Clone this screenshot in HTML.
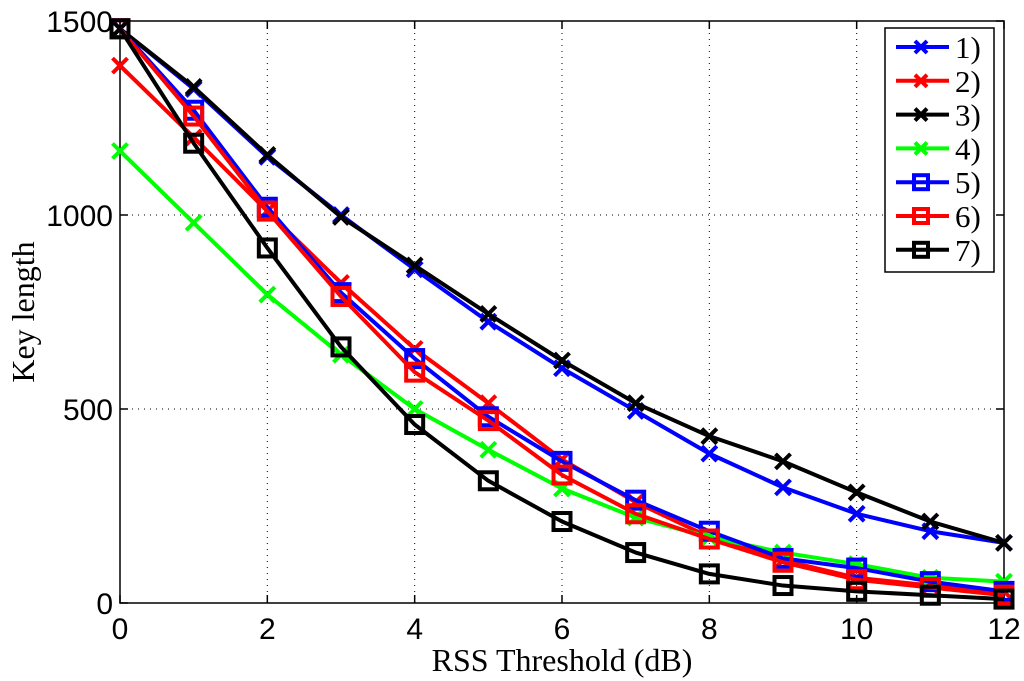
<!DOCTYPE html>
<html><head><meta charset="utf-8"><style>
body{margin:0;background:#fff}
svg{display:block}
.tk{font-family:"Liberation Sans",sans-serif;font-size:30px;fill:#000}
.tt{font-family:"Liberation Serif",serif;font-size:32px;fill:#000}
.lt{font-family:"Liberation Serif",serif;font-size:31px;fill:#000}
</style></head><body>
<svg id="chart" width="1024" height="681" viewBox="0 0 1024 681" xmlns="http://www.w3.org/2000/svg"></svg>
<script>
const xValues=[0,1,2,3,4,5,6,7,8,9,10,11,12];
const s1=[1480,1325,1150,1000,860,725,605,495,385,298,230,185,155];
const s2=[1385,1200,1010,825,655,515,370,260,170,110,65,45,30];
const s3=[1480,1330,1155,995,870,745,625,515,430,365,285,210,155];
const s4=[1165,980,795,640,500,395,295,220,170,130,100,65,55];
const s5=[1480,1270,1020,800,630,480,365,265,185,115,90,55,30];
const s6=[1480,1255,1010,790,595,470,330,230,165,105,60,40,20];
const s7=[1480,1185,915,660,460,315,210,130,75,45,30,20,10];
const xTicks=[0,2,4,6,8,10,12];
const yTicks=[0,500,1000,1500];
const legendLabels=["1)","2)","3)","4)","5)","6)","7)"];
const series=[[s1,"#0000ff","x"],[s2,"#ff0000","x"],[s3,"#000","x"],[s4,"#00ff00","x"],[s5,"#0000ff","s"],[s6,"#ff0000","s"],[s7,"#000","s"]];
const L=120,R=1004,T=21,B=603;
const X=v=>L+(v-0)/12*(R-L);
const Y=v=>B-(v/1500)*(B-T);
const svg=document.getElementById('chart');
const NS="http://www.w3.org/2000/svg";
function mk(tag,attrs,parent){const e=document.createElementNS(NS,tag);for(const k in attrs)e.setAttribute(k,attrs[k]);(parent||svg).appendChild(e);return e;}
xTicks.forEach(t=>{if(t>0&&t<12){const g=mk('line',{x1:X(t),x2:X(t),y1:T,y2:B,stroke:'#000','stroke-width':1,'stroke-dasharray':'1,5'});

}});
yTicks.forEach(t=>{if(t>0&&t<1500){const g=mk('line',{x1:L,x2:R,y1:Y(t),y2:Y(t),stroke:'#000','stroke-width':1,'stroke-dasharray':'1,5'});

}});
const box=mk('rect',{x:L,y:T,width:R-L,height:B-T,fill:'none',stroke:'#000','stroke-width':1.5});


xTicks.forEach(t=>{mk('line',{x1:X(t),x2:X(t),y1:B,y2:B-8,stroke:'#000','stroke-width':1.5});mk('line',{x1:X(t),x2:X(t),y1:T,y2:T+8,stroke:'#000','stroke-width':1.5});
const tx=mk('text',{x:X(t),y:B+36,'text-anchor':'middle',class:'tk'});tx.textContent=t;

});
yTicks.forEach(t=>{mk('line',{x1:L,x2:L+8,y1:Y(t),y2:Y(t),stroke:'#000','stroke-width':1.5});mk('line',{x1:R,x2:R-8,y1:Y(t),y2:Y(t),stroke:'#000','stroke-width':1.5});
const tx=mk('text',{x:L-7,y:Y(t)+11,'text-anchor':'end',class:'tk'});tx.textContent=t;

});
const xt=mk('text',{x:(L+R)/2,y:671,'text-anchor':'middle',class:'tt'});xt.textContent='RSS Threshold (dB)';


const yt=mk('text',{x:0,y:0,'text-anchor':'middle',class:'tt',transform:`translate(34,${(T+B)/2}) rotate(-90)`});yt.textContent='Key length';


function marker(g,x,y,type,col,sz){
 if(type==='x'){mk('path',{d:`M${x-sz},${y-sz}L${x+sz},${y+sz}M${x-sz},${y+sz}L${x+sz},${y-sz}`,stroke:col,'stroke-width':4,fill:'none'},g);}
 else{mk('rect',{x:x-sz,y:y-sz,width:2*sz,height:2*sz,stroke:col,'stroke-width':4,fill:'none'},g);}
}
series.forEach((s,i)=>{
 const g=mk('g',{});
 
 
 mk('polyline',{points:s[0].map((v,j)=>X(xValues[j])+','+Y(v)).join(' '),fill:'none',stroke:s[1],'stroke-width':4,'stroke-linejoin':'round'},g);
 s[0].forEach((v,j)=>marker(g,X(xValues[j]),Y(v),s[2],s[1],s[2]==='x'?7.5:8.5));
});
const lg=mk('g',{});


mk('rect',{x:885,y:28,width:109,height:244,fill:'#fff',stroke:'#000','stroke-width':1.5},lg);
legendLabels.forEach((lab,i)=>{
 const e=mk('g',{},lg);
 
 
 const y=47+i*33.8,s=series[i];
 mk('line',{x1:896,x2:949,y1:y,y2:y,stroke:s[1],'stroke-width':4},e);
 marker(e,921,y,s[2],s[1],s[2]==='x'?6:7);
 const t=mk('text',{x:955,y:y+11,class:'lt'},e);t.textContent=lab;
});
</script>
</body></html>
